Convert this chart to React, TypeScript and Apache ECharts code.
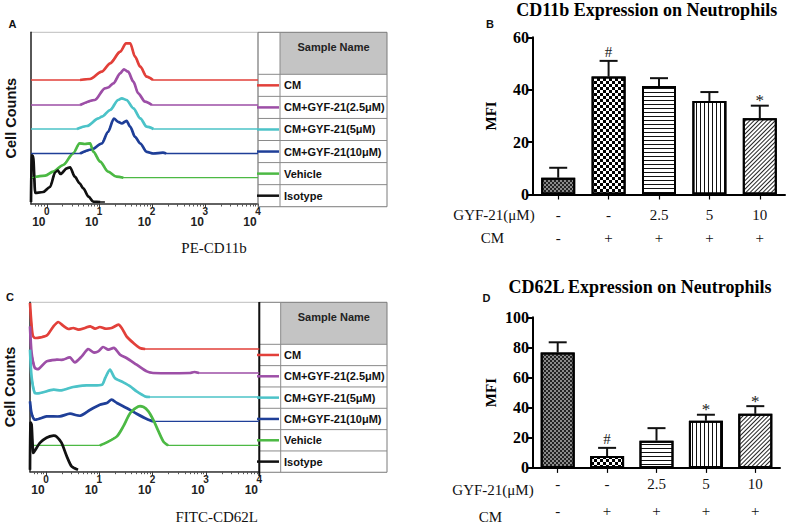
import React, { useEffect, useRef } from "react";
import * as echarts from "echarts";

const SANS = '"Liberation Sans", Arial, Helvetica, sans-serif';
const SERIF = '"Liberation Serif", "Times New Roman", Times, serif';

// ---------- Histograms (x = log10 fluorescence, y = counts above each trace's baseline) ----------
const sampleNames = ["CM", "CM+GYF-21(2.5μM)", "CM+GYF-21(5μM)", "CM+GYF-21(10μM)", "Vehicle", "Isotype"];
const sampleColors = ["#e2403a", "#9d4fa7", "#4cc3c8", "#1f3f98", "#4cb944", "#111111"];

// Panel A: PE-CD11b
const cd11bBaselines = [124, 99, 75, 50.5, 26.3, 2];
const cd11bCM = [[-0.3, 0], [0.63, 0], [0.82, 1], [1.04, 8.3], [1.2, 16.7], [1.39, 28.3], [1.5, 36.7], [1.58, 36.7], [1.67, 23.3], [1.77, 13.3], [1.89, 3.3], [2.01, 0], [4, 0]];
const cd11bGyf25 = [[-0.3, 0], [0.63, 0], [0.91, 5], [1.1, 16.7], [1.16, 17.5], [1.26, 21.7], [1.39, 31.7], [1.46, 35.7], [1.54, 33.3], [1.64, 23.3], [1.73, 11.7], [1.86, 3.3], [1.99, 0], [4, 0]];
const cd11bGyf5 = [[-0.3, 0], [0.57, 0], [0.76, 3], [0.98, 10.7], [1.04, 12.3], [1.2, 19], [1.35, 29], [1.42, 30.7], [1.51, 29], [1.64, 20.7], [1.77, 10.7], [1.89, 2.3], [2.02, 0], [4, 0]];
const cd11bGyf10 = [[-0.3, 0], [0.63, 0], [0.85, 4], [1.04, 10], [1.16, 21.7], [1.27, 35], [1.35, 31.7], [1.42, 30], [1.51, 32.7], [1.58, 26.7], [1.67, 16.7], [1.77, 10], [1.89, 1.7], [2.02, 0], [2.2, 0.8], [2.26, 0], [4, 0]];
const cd11bVehicle = [[-0.29, 0], [-0.03, 2], [0.12, 6], [0.31, 12.7], [0.5, 24.4], [0.62, 34.4], [0.72, 33.7], [0.82, 34.4], [0.88, 26], [1.01, 16], [1.16, 6], [1.32, 1], [1.45, 0], [4, 0]];
const cd11bIsotype = [[-0.3, 0], [-0.29, 47], [-0.26, 46], [-0.22, 9], [-0.07, 10], [0.06, 15], [0.16, 30], [0.2, 32], [0.26, 28], [0.38, 33.7], [0.44, 34.7], [0.53, 25.3], [0.62, 18.7], [0.69, 13.7], [0.79, 5.3], [0.88, 0.3], [1.01, 0], [1.1, 0]];
const cd11bCurves = [cd11bCM, cd11bGyf25, cd11bGyf5, cd11bGyf10, cd11bVehicle, cd11bIsotype];

// Panel C: FITC-CD62L
const cd62lBaselines = [122.7, 98.7, 74.7, 50.3, 26.3, 2];
const cd62lCM = [[-0.3, 46], [-0.28, 30], [-0.25, 14], [-0.21, 11], [0.01, 13.3], [0.14, 22.7], [0.23, 27], [0.32, 23.3], [0.42, 20], [0.51, 21], [0.61, 19.3], [0.73, 21], [0.83, 22.7], [0.92, 20.3], [1.01, 22], [1.11, 20.3], [1.23, 21], [1.36, 24.3], [1.42, 21], [1.51, 12.7], [1.64, 6], [1.76, 1], [1.86, 0], [4, 0]];
const cd62lGyf25 = [[-0.3, 46.6], [-0.27, 20], [-0.21, 5], [-0.14, 4], [0.01, 11.6], [0.2, 13.3], [0.32, 13.3], [0.45, 15.6], [0.54, 10.6], [0.67, 16.6], [0.79, 24], [0.89, 20.6], [0.98, 21.6], [1.07, 26], [1.17, 23.3], [1.28, 25], [1.39, 18.3], [1.51, 15], [1.7, 8.3], [1.89, 1.6], [2.01, 0], [2.7, 0], [2.78, 1], [2.87, 0], [4, 0]];
const cd62lGyf5 = [[-0.3, 47.3], [-0.27, 20], [-0.21, 4], [-0.11, 4], [0.14, 7.3], [0.29, 6.6], [0.51, 10], [0.76, 11.6], [1.05, 12.3], [1.11, 19], [1.2, 27.3], [1.29, 19], [1.45, 14.6], [1.58, 10.6], [1.7, 5.6], [1.86, 0.6], [1.95, 0], [4, 0]];
const cd62lGyf10 = [[-0.3, 20], [-0.27, 8], [-0.21, 1.7], [0.01, 5], [0.26, 5], [0.45, 7.7], [0.64, 5.7], [0.83, 11.7], [1.01, 16.7], [1.14, 18.4], [1.23, 21.7], [1.33, 18.4], [1.51, 13.4], [1.7, 7.7], [1.89, 2.4], [2.01, 0], [4, 0]];
const cd62lVehicle = [[-0.24, 0], [1.01, 0], [1.14, 3], [1.33, 9], [1.45, 19], [1.58, 32.4], [1.73, 39], [1.83, 38.4], [1.92, 34], [2.01, 25.7], [2.11, 14], [2.2, 4], [2.29, 0], [4, 0]];
const cd62lIsotype = [[-0.3, 0], [-0.29, 47], [-0.27, 45], [-0.24, 17], [-0.21, 19], [-0.11, 27], [0.01, 32], [0.14, 34], [0.2, 33], [0.29, 27], [0.39, 13.3], [0.48, 3.3], [0.6, 0]];
const cd62lCurves = [cd62lCM, cd62lGyf25, cd62lGyf5, cd62lGyf10, cd62lVehicle, cd62lIsotype];

const decadeTicks = [0, 1, 2, 3, 4];
const minorTickValues: number[] = [];
for (let d = -1; d < 4; d++) {
  for (let k = 2; k <= 9; k++) {
    const v = d + Math.log10(k);
    if (v > -0.3 && v < 4) minorTickValues.push(v);
  }
}

// ---------- Bar charts ----------
const groups = ["Control", "CM", "CM+GYF-21 2.5", "CM+GYF-21 5", "CM+GYF-21 10"];
const gyfLabels = ["-", "-", "2.5", "5", "10"];
const cmLabels = ["-", "+", "+", "+", "+"];
const cd11bMFI = [6.4, 45.0, 41.4, 35.7, 29.1];
const cd11bSD = [3.8, 6.0, 3.0, 3.4, 4.8];
const cd11bMarks = ["", "#", "", "", "*"];
const cd62lMFI = [76.6, 7.9, 18.1, 31.3, 35.9];
const cd62lSD = [6.8, 5.4, 8.3, 4.0, 5.1];
const cd62lMarks = ["", "#", "", "*", "*"];

const barFills = ["#8a8a8a", "#ffffff", "#ffffff", "#ffffff", "#ffffff"];
const barDecals: any[] = [
  { symbol: "rect", symbolSize: 1, dashArrayX: [[2, 2], [0, 2, 2, 0]], dashArrayY: [2, 0], color: "#222222" },
  { symbol: "rect", symbolSize: 1, dashArrayX: [[3, 3], [0, 3, 3, 0]], dashArrayY: [3, 0], color: "#000000" },
  { symbol: "rect", symbolSize: 1, dashArrayX: [1, 0], dashArrayY: [1, 3], color: "#111111" },
  { symbol: "rect", symbolSize: 1, dashArrayX: [1, 3], dashArrayY: [1, 0], color: "#111111" },
  { symbol: "rect", symbolSize: 1, dashArrayX: [1, 0], dashArrayY: [1, 2], rotation: -Math.PI / 4, color: "#222222" },
];

function peakRange(curve: number[][]) {
  let first = -1;
  let last = -1;
  curve.forEach((p, j) => {
    if (p[1] > 0.2) {
      if (first < 0) first = j;
      last = j;
    }
  });
  if (first < 0) return null;
  return [Math.max(0, first - 1), Math.min(curve.length - 1, last + 1)];
}

// Variant 1: line series (thin full trace + thick peak overlay), no clipping
function histogramLineSeries(curves: number[][][], baselines: number[], xAxisIndex: number, yAxisIndex: number) {
  const out: any[] = [];
  curves.forEach((curve, i) => {
    const pts = curve.map(([x, h]) => [x, h + baselines[i]]);
    out.push({
      type: "line",
      name: sampleNames[i],
      xAxisIndex,
      yAxisIndex,
      data: pts,
      showSymbol: false,
      symbol: "none",
      smooth: false,
      clip: false,
      silent: true,
      itemStyle: { color: sampleColors[i] },
      lineStyle: { color: sampleColors[i], width: 1.3 },
      z: 20 + i,
    });
    const r = peakRange(curve);
    if (r) {
      out.push({
        type: "line",
        name: sampleNames[i] + " (peak)",
        xAxisIndex,
        yAxisIndex,
        data: pts.slice(r[0], r[1] + 1),
        showSymbol: false,
        symbol: "none",
        smooth: 0.3,
        smoothMonotone: "x",
        clip: false,
        silent: true,
        itemStyle: { color: sampleColors[i] },
        lineStyle: { color: sampleColors[i], width: 2.7 },
        z: 2 + i,
      });
    }
  });
  return out;
}

// Variant 2: custom series drawing the traces as polylines through api.coord
function histogramCustomSeries(curves: number[][][], baselines: number[], xAxisIndex: number, yAxisIndex: number) {
  return {
    type: "custom",
    name: "traces",
    xAxisIndex,
    yAxisIndex,
    silent: true,
    clip: false,
    z: 5,
    data: curves.map((c, i) => [c[0][0], baselines[i]]),
    renderItem: (params: any, api: any) => {
      const i = params.dataIndex;
      const curve = curves[i];
      const pts = curve.map(([x, h]) => api.coord([x, h + baselines[i]]));
      const children: any[] = [
        { type: "polyline", shape: { points: pts }, style: { stroke: sampleColors[i], lineWidth: 1.3, fill: null } },
      ];
      const r = peakRange(curve);
      if (r) {
        children.push({
          type: "polyline",
          shape: { points: pts.slice(r[0], r[1] + 1), smooth: 0.25 },
          style: { stroke: sampleColors[i], lineWidth: 2.7, fill: null, lineJoin: "round" },
        });
      }
      return { type: "group", children };
    },
  };
}

function errorRender(marks: string[]) {
  return (params: any, api: any) => {
    const idx = api.value(0);
    const base = api.coord([idx, api.value(1)]);
    const top = api.coord([idx, api.value(2)]);
    const cap = 18;
    const children: any[] = [
      { type: "line", shape: { x1: top[0], y1: base[1], x2: top[0], y2: top[1] }, style: { stroke: "#111", lineWidth: 2 } },
      { type: "line", shape: { x1: top[0] - cap / 2, y1: top[1], x2: top[0] + cap / 2, y2: top[1] }, style: { stroke: "#111", lineWidth: 2 } },
    ];
    const m = marks[params.dataIndex];
    if (m) {
      children.push({
        type: "text",
        style: {
          text: m,
          x: top[0],
          y: top[1] - (m === "#" ? 8.5 : 5),
          align: "center",
          verticalAlign: "middle",
          fontFamily: SERIF,
          fontSize: m === "#" ? 15 : 17,
          fill: "#222",
        },
      });
    }
    return { type: "group", children };
  };
}

function histX(gridIndex: number) {
  return {
    type: "value",
    gridIndex,
    min: -0.3,
    max: 4,
    position: "bottom",
    axisLine: { show: true, onZero: false, lineStyle: { color: "#3a3a3a", width: 1.5 } },
    axisTick: { show: true, customValues: decadeTicks, length: 4, lineStyle: { color: "#3a3a3a", width: 1 } },
    axisLabel: {
      customValues: decadeTicks,
      formatter: (v: number) => `{s|${Math.round(v)}}\n{b|10}`,
      margin: 2.5,
      rich: {
        b: { fontSize: 12, fontWeight: "bold", fontFamily: SANS, color: "#222", lineHeight: 11, padding: [0, 16, 0, 0] },
        s: { fontSize: 10, fontWeight: "bold", fontFamily: SANS, color: "#222", lineHeight: 10 },
      },
    },
    splitLine: { show: false },
  };
}
function histMinorX(gridIndex: number) {
  return {
    type: "value",
    gridIndex,
    min: -0.3,
    max: 4,
    position: "bottom",
    axisLine: { show: false, onZero: false },
    axisLabel: { show: false },
    splitLine: { show: false },
    axisTick: { show: true, customValues: minorTickValues, length: 2.5, lineStyle: { color: "#555", width: 1 } },
  };
}
function histY(gridIndex: number, max: number) {
  return {
    type: "value",
    gridIndex,
    min: 0,
    max,
    axisLine: { show: true, onZero: false, lineStyle: { color: "#2a2a2a", width: 1.5 } },
    axisTick: { show: false },
    axisLabel: { show: false },
    splitLine: { show: false },
    name: "Cell Counts",
    nameLocation: "middle",
    nameGap: 13,
    nameTextStyle: { fontFamily: SANS, fontSize: 14.5, fontWeight: "bold", color: "#111" },
  };
}
function barX(gridIndex: number, lineHeight: number, margin: number) {
  return {
    type: "category",
    gridIndex,
    data: groups,
    axisLine: { show: true, lineStyle: { color: "#000", width: 2 } },
    axisTick: { show: true, alignWithLabel: true, length: 5, lineStyle: { color: "#000", width: 1.2 } },
    axisLabel: {
      interval: 0,
      formatter: (_v: string, i: number) => `${gyfLabels[i]}\n${cmLabels[i]}`,
      fontFamily: SERIF,
      fontSize: 15,
      color: "#111",
      lineHeight,
      margin,
    },
  };
}
function barY(gridIndex: number, max: number) {
  return {
    type: "value",
    gridIndex,
    min: 0,
    max,
    interval: 20,
    axisLine: { show: true, onZero: false, lineStyle: { color: "#000", width: 2 } },
    axisTick: { show: true, length: 6, lineStyle: { color: "#000", width: 2 } },
    axisLabel: { fontFamily: SERIF, fontWeight: "bold", fontSize: 16, color: "#000", margin: 4 },
    splitLine: { show: false },
    name: "MFI",
    nameLocation: "middle",
    nameGap: 35,
    nameTextStyle: { fontFamily: SERIF, fontWeight: "bold", fontSize: 15, color: "#000" },
  };
}
function barSeries(values: number[], xAxisIndex: number, yAxisIndex: number) {
  return {
    type: "bar",
    xAxisIndex,
    yAxisIndex,
    barWidth: 34,
    silent: true,
    data: values.map((v, i) => ({ value: v, itemStyle: { color: barFills[i], decal: barDecals[i] } })),
    itemStyle: { borderColor: "#000", borderWidth: 2 },
    z: 2,
  };
}
function errorSeries(values: number[], sd: number[], marks: string[], xAxisIndex: number, yAxisIndex: number) {
  return {
    type: "custom",
    xAxisIndex,
    yAxisIndex,
    silent: true,
    data: values.map((v, i) => [i, v, v + sd[i]]),
    renderItem: errorRender(marks),
    z: 4,
  };
}

function legendTable(x0: number, x1: number, x2: number, yTop: number, yHeader: number, rowH: number) {
  const els: any[] = [];
  const yBottom = yHeader + rowH * sampleNames.length;
  els.push({ type: "rect", shape: { x: x1, y: yTop, width: x2 - x1, height: yHeader - yTop }, style: { fill: "#c4c4c4", stroke: "none" }, z: 0 });
  els.push({ type: "rect", shape: { x: x0, y: yTop, width: x2 - x0, height: yBottom - yTop }, style: { fill: "none", stroke: "#7a7a7a", lineWidth: 1 }, z: 1 });
  els.push({ type: "line", shape: { x1, y1: yTop, x2: x1, y2: yBottom }, style: { stroke: "#8a8a8a", lineWidth: 1 }, z: 1 });
  for (let i = 0; i < sampleNames.length; i++) {
    const y = yHeader + rowH * i;
    els.push({ type: "line", shape: { x1: x0, y1: y, x2, y2: y }, style: { stroke: "#8a8a8a", lineWidth: 1 }, z: 1 });
  }
  els.push({
    type: "text",
    style: { text: "Sample Name", x: (x1 + x2) / 2, y: yTop + 14.5, align: "center", verticalAlign: "middle", fontFamily: SANS, fontSize: 11, fontWeight: "bold", fill: "#222" },
    z: 2,
  });
  return els;
}

function legendOpt(top: number, rowH: number) {
  return {
    data: sampleNames.map((n) => ({ name: n })),
    orient: "vertical",
    left: 257,
    top,
    padding: 0,
    itemGap: 0,
    itemWidth: 22,
    itemHeight: 2.5,
    icon: "rect",
    selectedMode: false,
    textStyle: { fontFamily: SANS, fontSize: 11, fontWeight: "bold", color: "#111", lineHeight: rowH },
  };
}

const letterStyle = { fontFamily: SANS, fontSize: 11, fontWeight: "bold", color: "#111" };
const titleStyle = { fontFamily: SERIF, fontSize: 18, fontWeight: "bold", color: "#000" };

const option: any = {
  animation: false,
  backgroundColor: "#ffffff",
  title: [
    { text: "A", left: 8.5, top: 18.5, padding: 0, textStyle: letterStyle },
    { text: "B", left: 486, top: 18.5, padding: 0, textStyle: letterStyle },
    { text: "C", left: 6, top: 291.5, padding: 0, textStyle: letterStyle },
    { text: "D", left: 482.5, top: 292, padding: 0, textStyle: letterStyle },
    { text: "CD11b Expression on Neutrophils", left: 646.7, top: 1, padding: 0, textAlign: "center", textStyle: titleStyle },
    { text: "CD62L Expression on Neutrophils", left: 640, top: 277.5, padding: 0, textAlign: "center", textStyle: titleStyle },
  ],
  legend: [legendOpt(74.3, 22.07), legendOpt(344.3, 21.33)],
  grid: [
    { left: 31, top: 32.3, width: 227, height: 171.7, show: true, borderColor: "#bdbdbd", borderWidth: 1, backgroundColor: "transparent" },
    { left: 533, top: 37.3, width: 252, height: 157.2 },
    { left: 30, top: 302.3, width: 229.3, height: 169.4, show: true, borderColor: "#bdbdbd", borderWidth: 1, backgroundColor: "transparent" },
    { left: 533, top: 317.3, width: 247, height: 156.7 },
  ],
  xAxis: [histX(0), histMinorX(0), barX(1, 23.3, 9), histX(2), histMinorX(2), barX(3, 26.7, 2.7)],
  yAxis: [histY(0, 171.7), barY(1, 60), histY(2, 169.4), barY(3, 100)],
  series: [
    ...histogramLineSeries(cd11bCurves, cd11bBaselines, 0, 0),
    barSeries(cd11bMFI, 2, 1),
    errorSeries(cd11bMFI, cd11bSD, cd11bMarks, 2, 1),
    histogramCustomSeries(cd62lCurves, cd62lBaselines, 3, 2),
    barSeries(cd62lMFI, 5, 3),
    errorSeries(cd62lMFI, cd62lSD, cd62lMarks, 5, 3),
  ],
  graphic: [
    ...legendTable(258, 280, 387, 32.3, 74.3, 22.07),
    ...legendTable(259.3, 280.7, 387, 302.3, 344.3, 21.33),
    { type: "line", shape: { x1: 259.3, y1: 302, x2: 259.3, y2: 476 }, style: { stroke: "#111", lineWidth: 2 }, z: 3 },
    { type: "text", style: { text: "PE-CD11b", x: 214, y: 248.3, align: "center", verticalAlign: "middle", fontFamily: SERIF, fontSize: 15, fill: "#111" } },
    { type: "text", style: { text: "FITC-CD62L", x: 216.7, y: 516.7, align: "center", verticalAlign: "middle", fontFamily: SERIF, fontSize: 15, fill: "#111" } },
    { type: "text", style: { text: "GYF-21(μM)", x: 494, y: 215, align: "center", verticalAlign: "middle", fontFamily: SERIF, fontSize: 15, fill: "#111" } },
    { type: "text", style: { text: "CM", x: 492.5, y: 238.3, align: "center", verticalAlign: "middle", fontFamily: SERIF, fontSize: 15, fill: "#111" } },
    { type: "text", style: { text: "GYF-21(μM)", x: 493, y: 490, align: "center", verticalAlign: "middle", fontFamily: SERIF, fontSize: 15, fill: "#111" } },
    { type: "text", style: { text: "CM", x: 490.5, y: 516.7, align: "center", verticalAlign: "middle", fontFamily: SERIF, fontSize: 15, fill: "#111" } },
  ],
};

export default function App() {
  const ref = useRef<HTMLDivElement>(null);
  useEffect(() => {
    if (!ref.current) return;
    const chart = echarts.init(ref.current, null, { renderer: "svg", width: 787, height: 524 });
    chart.setOption(option);
    return () => chart.dispose();
  }, []);
  return (
    <div
      ref={ref}
      style={{ position: "absolute", left: 0, top: 0, width: 787, height: 524, background: "#fff" }}
    />
  );
}
